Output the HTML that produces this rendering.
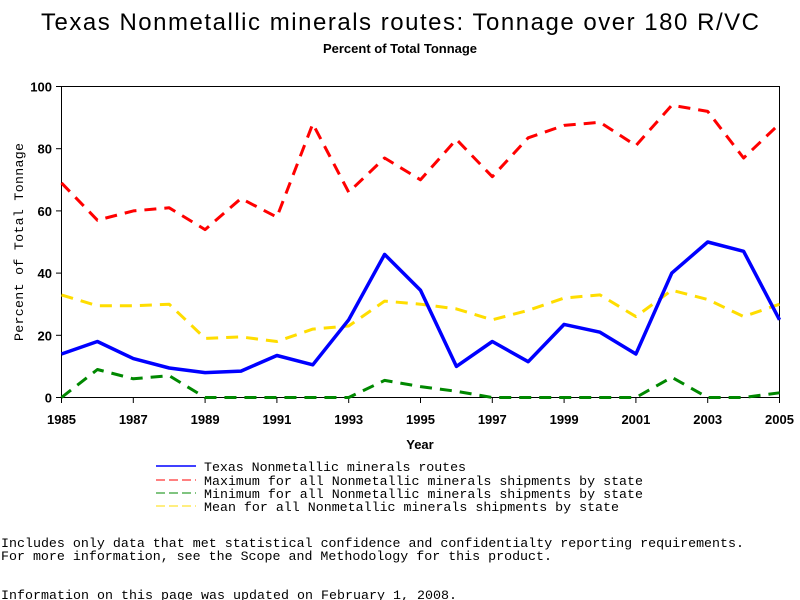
<!DOCTYPE html>
<html><head><meta charset="utf-8"><style>
html,body{margin:0;padding:0;background:#fff;width:800px;height:600px;overflow:hidden}
svg{display:block}
.m{font-family:"Liberation Mono",monospace;font-size:13.3px}
.b{font-family:"Liberation Sans",sans-serif;font-weight:bold;font-size:13px}
</style></head><body>
<svg id="chart" width="800" height="600">
<text x="400" y="30" text-anchor="middle" font-family="Liberation Sans, sans-serif" font-size="24" textLength="718">Texas Nonmetallic minerals routes: Tonnage over 180 R/VC</text>
<text x="400" y="53" text-anchor="middle" class="b" font-size="11">Percent of Total Tonnage</text>
<rect x="61.5" y="86.5" width="718" height="311" fill="none" stroke="#000" stroke-width="1"/>
<g id="axes"></g>
<g id="series"></g>
<text x="420" y="449" text-anchor="middle" class="b">Year</text>
<text transform="translate(23,242) rotate(-90)" text-anchor="middle" class="m" font-size="12" textLength="198">Percent of Total Tonnage</text>
<g>
<line x1="156" y1="466" x2="196" y2="466" stroke="#00f" stroke-width="1.5"/>
<text x="204" y="471" class="m" textLength="262">Texas Nonmetallic minerals routes</text>
<line x1="156" y1="480" x2="196" y2="480" stroke="#f00" stroke-width="1" stroke-dasharray="9,4"/>
<text x="204" y="485" class="m" textLength="439">Maximum for all Nonmetallic minerals shipments by state</text>
<line x1="156" y1="493" x2="196" y2="493" stroke="#080" stroke-width="1" stroke-dasharray="9,4"/>
<text x="204" y="498" class="m" textLength="439">Minimum for all Nonmetallic minerals shipments by state</text>
<line x1="156" y1="506" x2="196" y2="506" stroke="#fd0" stroke-width="1" stroke-dasharray="9,4"/>
<text x="204" y="511" class="m" textLength="415">Mean for all Nonmetallic minerals shipments by state</text>
</g>
<text x="1" y="547" class="m" textLength="743">Includes only data that met statistical confidence and confidentialty reporting requirements.</text>
<text x="1" y="560" class="m" textLength="551">For more information, see the Scope and Methodology for this product.</text>
<text x="1" y="599" class="m" textLength="456">Information on this page was updated on February 1, 2008.</text>
</svg>
<script>
const years=[1985,1986,1987,1988,1989,1990,1991,1992,1993,1994,1995,1996,1997,1998,1999,2000,2001,2002,2003,2004,2005];
const texasValues=[14,18,12.5,9.5,8,8.5,13.5,10.5,25,46,34.5,10,18,11.5,23.5,21,14,40,50,47,25];
const maxValues=[69,57,60,61,54,64,58,88,66,77,70,83,71,83.5,87.5,88.5,81,94,92,77,88];
const minValues=[0,9,6,7,0,0,0,0,0,5.5,3.5,2,0,0,0,0,0,6.5,0,0,1.5];
const meanValues=[33,29.5,29.5,30,19,19.5,18,22,23,31,30,28.5,25,28,32,33,26,34.5,31.5,26,30];
const yTicks=[0,20,40,60,80,100];
const xTicks=[1985,1987,1989,1991,1993,1995,1997,1999,2001,2003,2005];
const NS="http://www.w3.org/2000/svg";
const xS=y=>61.5+(y-1985)*(718/20);
const yS=v=>397.5-v*3.11;
const axes=document.getElementById('axes'),ser=document.getElementById('series');
function mk(t,a,p){const e=document.createElementNS(NS,t);for(const k in a)e.setAttribute(k,a[k]);p.appendChild(e);return e;}
yTicks.forEach(v=>{
 const l=mk('line',{x1:56,x2:61.5,y1:yS(v),y2:yS(v),stroke:'#000'},axes);
 
 
 const t=mk('text',{x:52,y:yS(v)+5,'text-anchor':'end',class:'b'},axes);t.textContent=v;
 
 
});
xTicks.forEach(v=>{
 const l=mk('line',{x1:xS(v),x2:xS(v),y1:397.5,y2:403,stroke:'#000'},axes);
 
 
 const t=mk('text',{x:xS(v),y:424,'text-anchor':'middle',class:'b'},axes);t.textContent=v;
 
 
});
function line(vals,color,w,dash,name){
 const pts=vals.map((v,i)=>xS(years[i]).toFixed(1)+','+yS(v).toFixed(1)).join(' ');
 const a={points:pts,fill:'none',stroke:color,'stroke-width':w,'stroke-linejoin':'round'};
 if(dash)a['stroke-dasharray']=dash;
 const p=mk('polyline',a,ser);
 
 
}
line(maxValues,'#f00',3,'12,8','series-max');
line(meanValues,'#fd0',3,'12,8','series-mean');
line(minValues,'#080',3,'12,8','series-min');
line(texasValues,'#00f',3.5,null,'series-texas');
</script>
</body></html>
